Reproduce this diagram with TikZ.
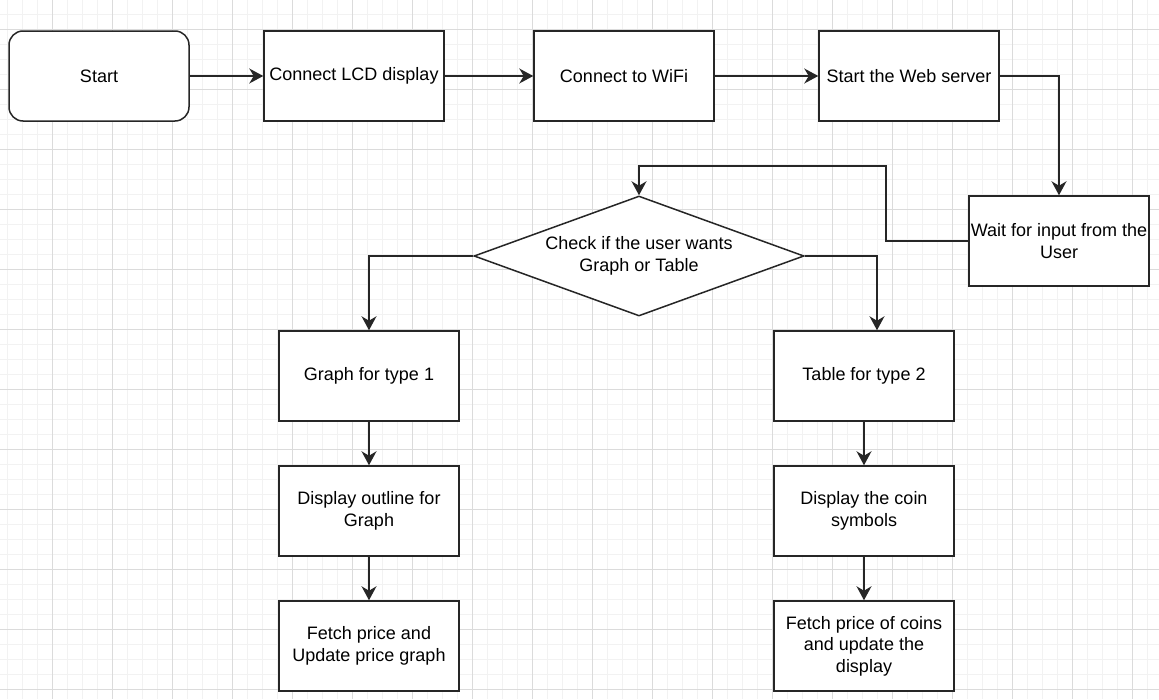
\documentclass[tikz,border=0pt]{standalone}
\usepackage{fontspec}
\setmainfont{Liberation Sans}
\usetikzlibrary{shapes.geometric,arrows.meta}
\begin{document}
\begin{tikzpicture}[x=1pt,y=-1pt,
  lbl/.style={font=\fontsize{18}{21.5}\selectfont, align=center, text=black},
  box/.style={lbl, draw=black!85, line width=1.5pt, fill=white, minimum width=180pt, minimum height=90pt, inner sep=0pt},
  startbox/.style={box, rounded corners=14pt},
  decision/.style={lbl, diamond, draw=black!85, line width=1.5pt, fill=white, minimum width=330pt, minimum height=120pt, inner sep=0pt, shape aspect=2.75},
  conn/.style={draw=black!85, line width=1.5pt, -{Stealth[length=14pt,width=15pt,inset=4.5pt]}},
  minorgrid/.style={draw=black!5, line width=0.8pt},
  majorgrid/.style={draw=black!14, line width=0.8pt}]
\useasboundingbox (0,0) rectangle (1159,699);
\fill[white] (0,0) rectangle (1159,699);
% grid
\foreach \x in {7,22,...,1157} \draw[minorgrid] (\x,0) -- (\x,699);
\foreach \y in {14,29,...,697} \draw[minorgrid] (0,\y) -- (1159,\y);
\foreach \x in {52,112,...,1157} \draw[majorgrid] (\x,0) -- (\x,699);
\foreach \y in {29,89,...,697} \draw[majorgrid] (0,\y) -- (1159,\y);
% nodes
\node[startbox] (start) at (99,76) {Start};
\node[box] (lcd) at (354,76) {Connect LCD display};
\node[box] (wifi) at (624,76) {Connect to WiFi};
\node[box] (web) at (909,76) {Start the Web server};
\node[box] (wait) at (1059,241) {Wait for input from the\\User};
\node[decision] (dec) at (639,256) {Check if the user wants\\Graph or Table};
\node[box] (graph) at (369,376) {Graph for type 1};
\node[box] (table) at (864,376) {Table for type 2};
\node[box] (outline) at (369,511) {Display outline for\\Graph};
\node[box] (coins) at (864,511) {Display the coin\\symbols};
\node[box] (fetchg) at (369,646) {Fetch price and\\Update price graph};
\node[box] (fetchc) at (864,646) {Fetch price of coins\\and update the\\display};
\coordinate (loop) at (886,166);
% connectors
\draw[conn] (start) -- (lcd);
\draw[conn] (lcd) -- (wifi);
\draw[conn] (wifi) -- (web);
\draw[conn] (web.east) -| (wait.north);
\draw[conn] (wait.west) -| (loop) -| (dec.north);
\draw[conn] (dec.west) -| (graph.north);
\draw[conn] (dec.east) -| ([xshift=13pt]table.north);
\draw[conn] (graph) -- (outline);
\draw[conn] (outline) -- (fetchg);
\draw[conn] (table) -- (coins);
\draw[conn] (coins) -- (fetchc);
\end{tikzpicture}
\end{document}
